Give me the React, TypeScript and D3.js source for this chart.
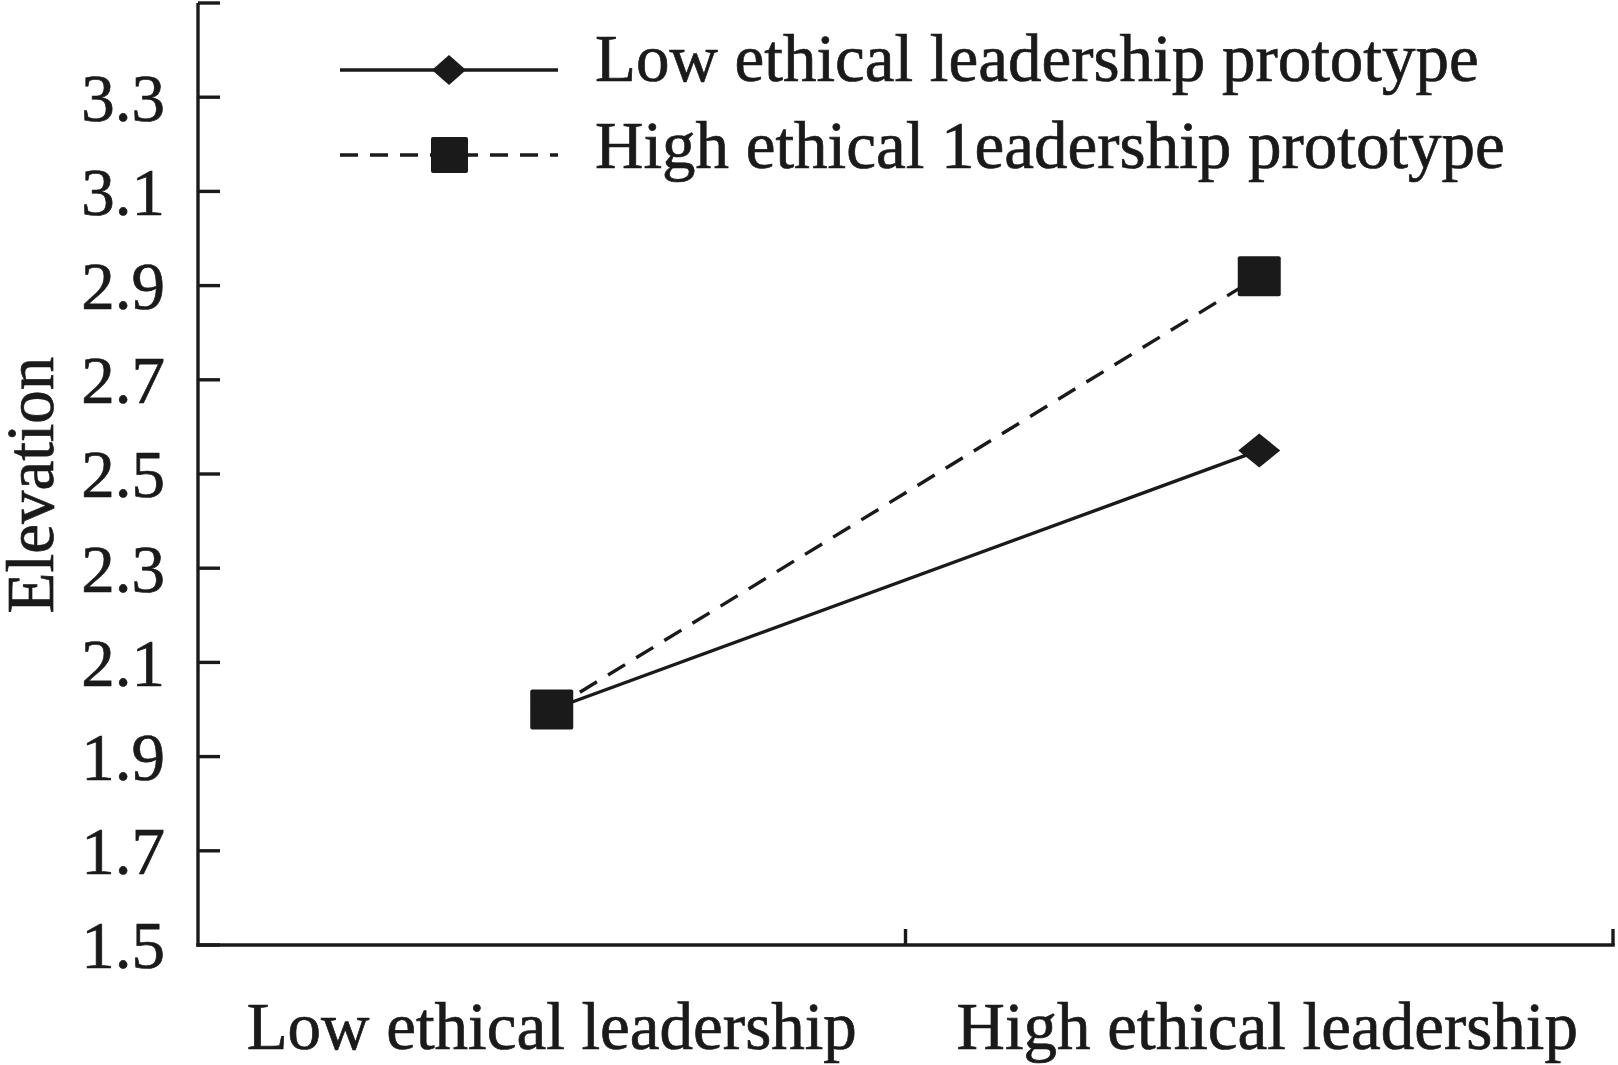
import React from "react";
import * as d3 from "d3";

const categories = ["Low ethical leadership", "High ethical leadership"];
const lowPrototype = [2.0, 2.55];
const highPrototype = [2.0, 2.92];
const yTickValues = [1.5, 1.7, 1.9, 2.1, 2.3, 2.5, 2.7, 2.9, 3.1, 3.3, 3.5];
const yTickLabels = ["1.5", "1.7", "1.9", "2.1", "2.3", "2.5", "2.7", "2.9", "3.1", "3.3", ""];
const legendLabels = ["Low ethical leadership prototype", "High ethical 1eadership prototype"];
const yTitle = "Elevation";

const W = 1618;
const H = 1065;
const INK = "#1a1a1a";
const FONT = "'Liberation Serif', 'Times New Roman', Times, serif";
const SW = 3.4;

export default function App() {
  const x = d3.scaleBand<string>().domain(categories).range([198, 1613]).padding(0);
  const y = d3.scaleLinear().domain([1.5, 3.5]).range([945, 3]);
  const cx = (c: string) => (x(c) as number) + x.bandwidth() / 2;

  const line = d3
    .line<number>()
    .x((_, i) => cx(categories[i]))
    .y((d) => y(d));

  const diamond = (px: number, py: number, w: number, h: number) =>
    `M${px},${py - h / 2}L${px + w / 2},${py}L${px},${py + h / 2}L${px - w / 2},${py}Z`;

  const [y0, y1] = y.range();
  const bandEdges = categories.map((c) => (x(c) as number) + x.bandwidth());
  const textProps = { fontSize: 67, fill: INK, stroke: INK, strokeWidth: 0.7 };

  return (
    <svg
      width={W}
      height={H}
      style={{ position: "absolute", left: 0, top: 0, background: "#fff" }}
      fontFamily={FONT}
    >
      <rect x={0} y={0} width={W} height={H} fill="#fff" />
      {/* Y axis */}
      <line x1={198} x2={198} y1={y1} y2={y0 + 1.7} stroke={INK} strokeWidth={SW} />
      {yTickValues.map((v, i) => (
        <g key={"yt" + i}>
          <line x1={198} x2={220} y1={y(v)} y2={y(v)} stroke={INK} strokeWidth={SW} />
          {yTickLabels[i] && (
            <text x={165} y={y(v)} dy="0.35em" textAnchor="end" {...textProps}>
              {yTickLabels[i]}
            </text>
          )}
        </g>
      ))}
      {/* X axis */}
      <line x1={196.3} x2={1614.7} y1={y0} y2={y0} stroke={INK} strokeWidth={SW} />
      {bandEdges.map((bx, i) => (
        <line key={"xt" + i} x1={bx} x2={bx} y1={y0} y2={y0 - 16} stroke={INK} strokeWidth={SW} />
      ))}
      {categories.map((c, i) => (
        <text key={c} x={cx(c) + (i === 0 ? 0 : 8)} y={1049} textAnchor="middle" {...textProps}>
          {c}
        </text>
      ))}
      {/* Y title */}
      <text transform={`translate(53,485) rotate(-90)`} textAnchor="middle" {...textProps}>
        {yTitle}
      </text>

      {/* Low prototype series */}
      <path d={line(lowPrototype) || ""} fill="none" stroke={INK} strokeWidth={SW} />
      {lowPrototype.map((v, i) => (
        <path key={"d" + i} d={diamond(cx(categories[i]), y(v), 42, 34)} fill={INK} />
      ))}

      {/* High prototype series */}
      <path
        d={line(highPrototype) || ""}
        fill="none"
        stroke={INK}
        strokeWidth={SW}
        strokeDasharray="20 13"
      />
      {highPrototype.map((v, i) => (
        <rect
          key={"s" + i}
          x={cx(categories[i]) - 21.5}
          y={y(v) - 20}
          width={43}
          height={40}
          rx={2}
          fill={INK}
        />
      ))}

      {/* Legend */}
      <g>
        <line x1={340} x2={558} y1={70} y2={70} stroke={INK} strokeWidth={SW} />
        <path d={diamond(449, 70, 34, 30)} fill={INK} />
        <text x={595} y={81} {...textProps}>
          {legendLabels[0]}
        </text>
        <line
          x1={340}
          x2={558}
          y1={155}
          y2={155}
          stroke={INK}
          strokeWidth={SW}
          strokeDasharray="18 12"
        />
        <rect x={431} y={137} width={37} height={36} rx={2} fill={INK} />
        <text x={595} y={168} {...textProps}>
          {legendLabels[1]}
        </text>
      </g>
    </svg>
  );
}
